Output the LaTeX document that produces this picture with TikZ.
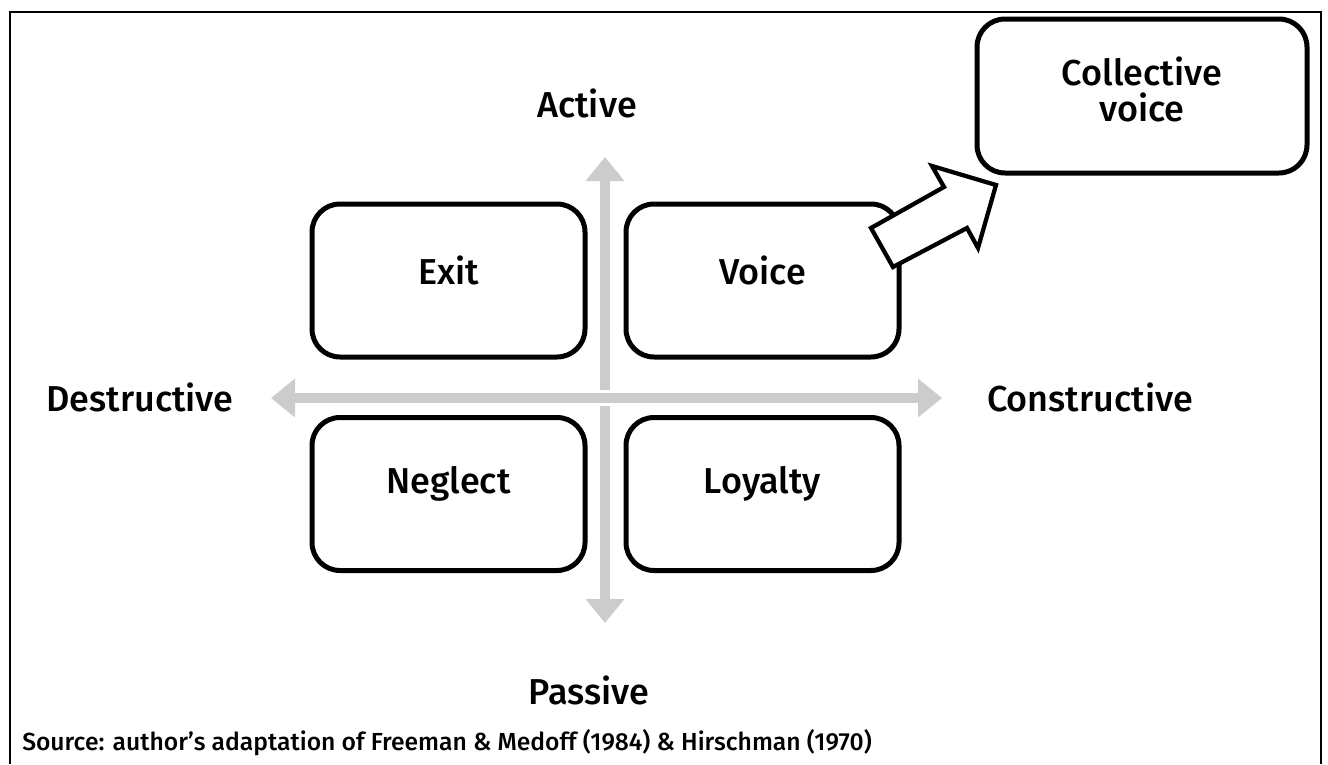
\documentclass[tikz,border=0pt]{standalone}
\usepackage{fontspec}
\setmainfont{Fira Sans}[UprightFont={* Medium}]
\usetikzlibrary{arrows.meta}
\definecolor{axisgray}{RGB}{204,204,204}
\tikzset{
  quadbox/.style={draw=black, line width=3.75pt, rounded corners=21pt, fill=white,
    minimum width=204.75pt, minimum height=114.75pt, inner sep=0pt},
  axis/.style={draw=axisgray, line width=7.5pt,
    -{Triangle[width=28pt,length=18pt]}},
  lbl/.style={font=\fontsize{27}{27}\selectfont, inner sep=0pt},
  src/.style={font=\fontsize{18.5}{23}\selectfont, inner sep=0pt, anchor=base west},
}
\begin{document}
\begin{tikzpicture}[x=0.75pt, y=-0.75pt]
\useasboundingbox (0,0) rectangle (1328,764);
% open frame around the figure
\draw[line width=1.5pt] (10,764) -- (10,12) -- (1321,12) -- (1321,764);

% axes
\coordinate (ctr) at (605,398);
\coordinate (top) at (605,157);
\coordinate (bot) at (605,623);
\coordinate (lft) at (271,398);
\coordinate (rgt) at (942,398);
\draw[axis] (ctr |- 0,390) -- (top);
\draw[axis] (ctr |- 0,406) -- (bot);
\draw[axis] (ctr -| 613,0) -- (lft);
\draw[axis] (ctr -| 597,0) -- (rgt);

% quadrant boxes
\node[quadbox] (exit)    at (448.5,280.5) {};
\node[quadbox] (voice)   at (762.5,280.5) {};
\node[quadbox] (neglect) at (448.5,494)   {};
\node[quadbox] (loyalty) at (762.5,494)   {};
\node[lbl] (exitT)    at ([yshift=7.5pt]exit.center)    {Exit};
\node[lbl] (voiceT)   at ([yshift=7.5pt]voice.center)   {Voice};
\node[lbl] (neglectT) at ([yshift=7.5pt]neglect.center) {Neglect};
\node[lbl] (loyaltyT) at ([yshift=7.5pt]loyalty.center) {Loyalty};

% collective voice box
\node[quadbox, minimum width=247.5pt, minimum height=115.5pt] (coll) at (1142,96) {};
\node[lbl, align=center] (collT) at ([yshift=5pt]coll.center) {Collective\\voice};

% block arrow from voice towards collective voice
\draw[line width=3.2pt, fill=white, line join=miter]
  (893,267) -- (871,228) -- (944,187) -- (932,166) -- (996,185)
  -- (978,248) -- (967,228) -- cycle;

% axis labels
\node[lbl] (active)  at (587,103)  {Active};
\node[lbl] (passive) at (589,690)  {Passive};
\node[lbl] (destr)   at (140,397)  {Destructive};
\node[lbl] (constr)  at (1090,397) {Constructive};

% source line
\node[src] (source) at (22,750) {Source: author’s adaptation of Freeman \& Medoff (1984) \& Hirschman (1970)};
\end{tikzpicture}
\end{document}
